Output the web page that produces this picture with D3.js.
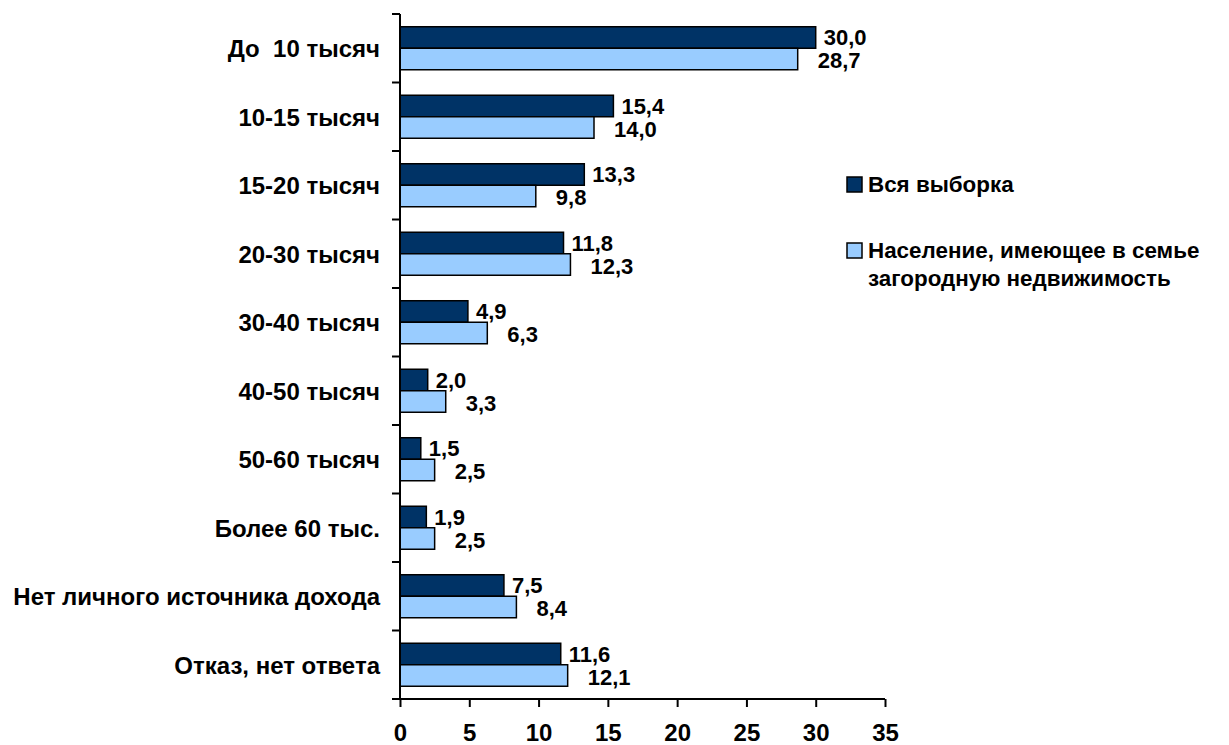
<!DOCTYPE html>
<html><head><meta charset="utf-8">
<script src="https://cdn.jsdelivr.net/npm/d3@7"></script>
<style>
html,body{margin:0;padding:0;background:#fff;}
text{font-family:"Liberation Sans",Arial,sans-serif;font-weight:bold;font-size:22px;fill:#000;}
text.cat, .xaxis text{font-size:24px;}
text.leg{font-size:22.4px;}
</style></head>
<body><svg id="c" width="1229" height="745"></svg>
<script>
const categories = ["До  10 тысяч","10-15 тысяч","15-20 тысяч","20-30 тысяч","30-40 тысяч","40-50 тысяч","50-60 тысяч","Более 60 тыс.","Нет личного источника дохода","Отказ, нет ответа"];
const seriesNames = ["Вся выборка","Население, имеющее в семье загородную недвижимость"];
const allSample = [30.0,15.4,13.3,11.8,4.9,2.0,1.5,1.9,7.5,11.6];
const ownersSample = [28.7,14.0,9.8,12.3,6.3,3.3,2.5,2.5,8.4,12.1];
const xTicks = [0,5,10,15,20,25,30,35];
const colors = ["#003366","#99CCFF"];

(function(){
const svg = d3.select("#c");
const pLeft = 400, pRight = 885, pTop = 14, pBottom = 699;
const x = d3.scaleLinear().domain([0,35]).range([pLeft,pRight]);
const y0 = d3.scaleBand().domain(categories).range([pTop,pBottom]).padding(0);
const y1 = d3.scaleBand().domain([0,1]).range([0,y0.bandwidth()]).paddingInner(0).paddingOuter(0.593);
const fmt = v => v.toFixed(1).replace(".", ",");
const series = [allSample, ownersSample];
const labelDx = [8, 20];
const labelDy = [0, 1];

series.forEach((vals, si) => {
  const g = svg.append("g");
  g.selectAll("rect").data(vals).join("rect")
    .attr("x", x(0))
    .attr("y", (d,i) => y0(categories[i]) + y1(si))
    .attr("width", d => x(d) - x(0))
    .attr("height", y1.bandwidth())
    .attr("fill", colors[si])
    .attr("stroke", "#000").attr("stroke-width", 1.5);
  g.selectAll("text").data(vals).join("text")
    .attr("x", d => x(d) + labelDx[si])
    .attr("y", (d,i) => y0(categories[i]) + y1(si) + y1.bandwidth()/2 + 8 + labelDy[si])
    .text(d => fmt(d));
});

// y axis
const yAxis = svg.append("g");
yAxis.append("line").attr("x1",pLeft).attr("x2",pLeft).attr("y1",pTop).attr("y2",pBottom).attr("stroke","#000").attr("stroke-width",2);
const bounds = categories.map(c => y0(c)).concat([pBottom]);
yAxis.selectAll("line.t").data(bounds).join("line").attr("class","t")
  .attr("x1",pLeft-8).attr("x2",pLeft).attr("y1",d=>d).attr("y2",d=>d).attr("stroke","#000").attr("stroke-width",2);
yAxis.selectAll("text").data(categories).join("text").attr("class","cat")
  .attr("x", 380).attr("y", d => y0(d) + y0.bandwidth()/2 + 9)
  .attr("text-anchor","end").style("white-space","pre").text(d => d);

// x axis
const xa = svg.append("g").attr("class","xaxis").attr("transform",`translate(0,${pBottom})`)
  .call(d3.axisBottom(x).tickValues(xTicks).tickSize(8).tickPadding(20).tickFormat(d=>d));
xa.attr("font-size",null).attr("font-family",null);
xa.select(".domain").attr("stroke","#000").attr("stroke-width",2).attr("d",`M${pLeft},0H${pRight}`);
xa.selectAll(".tick line").attr("stroke","#000").attr("stroke-width",2);
xa.selectAll(".tick text").attr("dy",null).attr("y",42);

// legend
const leg = svg.append("g");
const legItems = [{y:177, lines:["Вся выборка"]},{y:243, lines:["Население, имеющее в семье","загородную недвижимость"]}];
legItems.forEach((it, i) => {
  leg.append("rect").attr("x",847).attr("y",it.y).attr("width",15).attr("height",15)
    .attr("fill",colors[i]).attr("stroke","#000").attr("stroke-width",1.5);
  it.lines.forEach((l, j) => {
    leg.append("text").attr("class","leg").attr("x", 868).attr("y", it.y + 15 + j*28).text(l);
  });
});
})();
</script></body></html>
